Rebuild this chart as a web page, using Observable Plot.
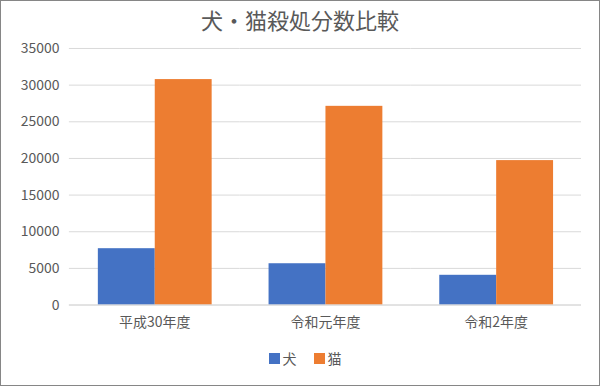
<!DOCTYPE html>
<html><head><meta charset="utf-8">
<script src="https://cdn.jsdelivr.net/npm/d3@7"></script>
<script src="https://cdn.jsdelivr.net/npm/@observablehq/plot@0.6"></script>
<style>
html,body{margin:0;padding:0;background:#fff;}
#wrap{position:relative;width:598px;height:384px;border:1px solid #868686;overflow:hidden;font-family:"Noto Sans CJK JP","Noto Sans",sans-serif;}
#title{position:absolute;top:4px;left:0;width:598px;text-align:center;font-size:22px;color:#595959;line-height:28px;}
#chart{position:absolute;top:37px;left:-1px;}
#legend{position:absolute;top:347px;left:0;width:598px;display:flex;justify-content:center;gap:17px;font-size:14px;color:#595959;padding-left:10px;box-sizing:border-box;}
.item{display:flex;align-items:center;gap:3px;}
.sw{width:11px;height:11px;display:inline-block;}
</style></head>
<body><div id="wrap"><div id="title">犬・猫殺処分数比較</div><div id="chart"></div><div id="legend"></div></div>
<script>
const years = ["平成30年度","令和元年度","令和2年度"];
const animals = ["犬","猫"];
const dogs = [7687, 5635, 4059];
const cats = [30757, 27108, 19705];
const colors = ["#4472C4","#ED7D31"];
const yTicks = [0,5000,10000,15000,20000,25000,30000,35000];

const data = [];
years.forEach((y,i)=>{
  data.push({year:y, animal:animals[0], value:dogs[i]});
  data.push({year:y, animal:animals[1], value:cats[i]});
});

const plot = Plot.plot({
  width: 600,
  height: 303,
  marginLeft: 68,
  marginRight: 17,
  marginTop: 10,
  marginBottom: 36,
  style: {fontFamily: '"Noto Sans CJK JP","Noto Sans",sans-serif', fontSize: "14px", color: "#595959", background: "transparent"},
  fx: {domain: years, padding: 0, label: null, tickSize: 0, tickPadding: 12},
  x: {domain: animals, paddingInner: 0, paddingOuter: 0.5, axis: null},
  y: {domain: [0,35000], ticks: yTicks, label: null, tickSize: 0, tickPadding: 10, tickFormat: d=>String(d)},
  color: {domain: animals, range: colors},
  marks: [
    Plot.gridY(yTicks, {stroke: "#d9d9d9", strokeOpacity: 1, strokeWidth: 1}),
    Plot.barY(data, {fx: "year", x: "animal", y: "value", fill: "animal", insetLeft: 0, insetRight: 0}),
    Plot.ruleY([0], {stroke: "#d9d9d9", strokeWidth: 1})
  ]
});
document.getElementById("chart").appendChild(plot);

const lg = document.getElementById("legend");
animals.forEach((a,i)=>{
  const it = document.createElement("div"); it.className="item";
  const sw = document.createElement("span"); sw.className="sw"; sw.style.background=colors[i];
  const t = document.createElement("span"); t.textContent=a;
  it.appendChild(sw); it.appendChild(t); lg.appendChild(it);
});
</script></body></html>
